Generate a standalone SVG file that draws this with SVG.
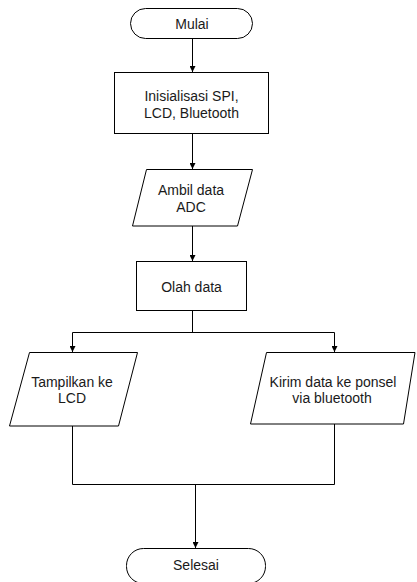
<svg xmlns="http://www.w3.org/2000/svg" width="417" height="582" viewBox="0 0 417 582">
<style>
.s{fill:#fff;stroke:#000;stroke-width:1}
.t{font-family:"Liberation Sans",Arial,sans-serif;font-size:14px;fill:#1a1a1a;text-anchor:middle}
.c{fill:none;stroke:#000;stroke-width:1}
</style>
<defs>
<marker id="ah" viewBox="0 0 6 6" refX="6" refY="3" markerWidth="6" markerHeight="6" markerUnits="userSpaceOnUse" orient="auto">
<path d="M0,0 L6,3 L0,6 Z" fill="#000"/>
</marker>
</defs>
<rect width="417" height="582" fill="#fff"/>
<g id="connectors">
<path class="c" d="M192.5,39 V72" marker-end="url(#ah)"/>
<path class="c" d="M192.5,133.5 V169" marker-end="url(#ah)"/>
<path class="c" d="M192.5,226 V261" marker-end="url(#ah)"/>
<path class="c" d="M192.5,311 V332.5"/>
<path class="c" d="M72.5,332.5 H334.5"/>
<path class="c" d="M72.5,332.5 V352" marker-end="url(#ah)"/>
<path class="c" d="M334.5,332.5 V352" marker-end="url(#ah)"/>
<path class="c" d="M72.5,426 V484.5 H334.5 V424"/>
<path class="c" d="M195.5,484.5 V548" marker-end="url(#ah)"/>
</g>
<g id="mulai">
<rect class="s" x="130.5" y="8.5" width="122" height="30" rx="15" ry="15"/>
<text class="t" x="192" y="28.5">Mulai</text>
</g>
<g id="init">
<rect class="s" x="114.5" y="72.5" width="154" height="61"/>
<text class="t" x="191.5" y="101">Inisialisasi SPI,</text>
<text class="t" x="191.5" y="117.5">LCD, Bluetooth</text>
</g>
<g id="ambil">
<polygon class="s" points="146.5,169.5 252.5,169.5 237.5,226 132.5,226"/>
<text class="t" x="191" y="194.5">Ambil data</text>
<text class="t" x="191" y="211.5">ADC</text>
</g>
<g id="olah">
<rect class="s" x="136.5" y="261.5" width="110" height="49"/>
<text class="t" x="191.5" y="292">Olah data</text>
</g>
<g id="tampilkan">
<polygon class="s" points="29.5,352.5 137.5,352.5 118.5,426 9.5,426"/>
<text class="t" x="72" y="386.7">Tampilkan ke</text>
<text class="t" x="72" y="403.3">LCD</text>
</g>
<g id="kirim">
<polygon class="s" points="266.5,352.5 415,352.5 403.5,424 250.5,424"/>
<text class="t" x="333" y="386.7">Kirim data ke ponsel</text>
<text class="t" x="332" y="402.7">via bluetooth</text>
</g>
<g id="selesai">
<rect class="s" x="126.5" y="548.5" width="139" height="35" rx="17" ry="17"/>
<text class="t" x="196" y="570">Selesai</text>
</g>
</svg>
